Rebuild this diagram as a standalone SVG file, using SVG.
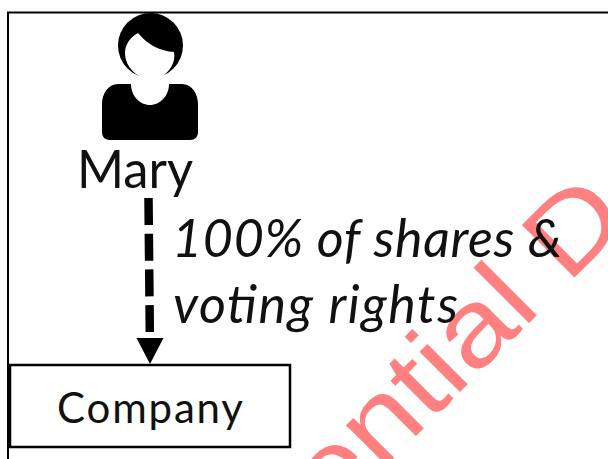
<svg xmlns="http://www.w3.org/2000/svg" width="608" height="459" viewBox="0 0 608 459">
<style>
.t{font-family:"Lato","Open Sans",sans-serif;fill:#111}
.i{font-style:italic;font-size:52px}
</style>
<rect width="608" height="459" fill="#fff"/>
<path d="M8 459V12.500H608" fill="none" stroke="#000" stroke-width="2"/>
<text id="watermark" transform="translate(331 521) rotate(-45) scale(1.16 1)" font-family="Liberation Sans,Arial,sans-serif" font-size="108" fill="#ff8080">ential D</text>
<g id="mary">
<circle cx="150.500" cy="45.500" r="32.500" fill="#000"/>
<path d="M138 33C148 45 160 51 174 52C176 62 170 72 160 78H142C131 72 125 63 125 53C125 45 130 37 138 33Z" fill="#fff"/>
<path d="M118 84H131C131 96 140 105 150 105C160 105 169 96 169 84H182C192 84 198 94 198 104V132C198 137 195 140 190 140H110C105 140 102 137 102 132V104C102 94 108 84 118 84Z" fill="#000"/>
<text class="t" x="77" y="188" font-size="53" textLength="116" lengthAdjust="spacingAndGlyphs">Mary</text>
</g>
<g id="connectors">
<path d="M148.500 198L149.800 332" stroke="#000" stroke-width="8.500" stroke-dasharray="27 8.700" fill="none"/>
<path d="M136.500 338H163.500L150 364Z" fill="#000"/>
</g>
<g id="label">
<text class="t i" x="172" y="257" textLength="390" lengthAdjust="spacing">100% of shares &amp;</text>
<text class="t i" x="173" y="323" textLength="285" lengthAdjust="spacing">voting rights</text>
</g>
<g id="company">
<rect x="10" y="365" width="280" height="82" fill="#fff" stroke="#000" stroke-width="2.500"/>
<text class="t" x="57" y="423" font-size="42" textLength="186" lengthAdjust="spacing">Company</text>
</g>
</svg>
